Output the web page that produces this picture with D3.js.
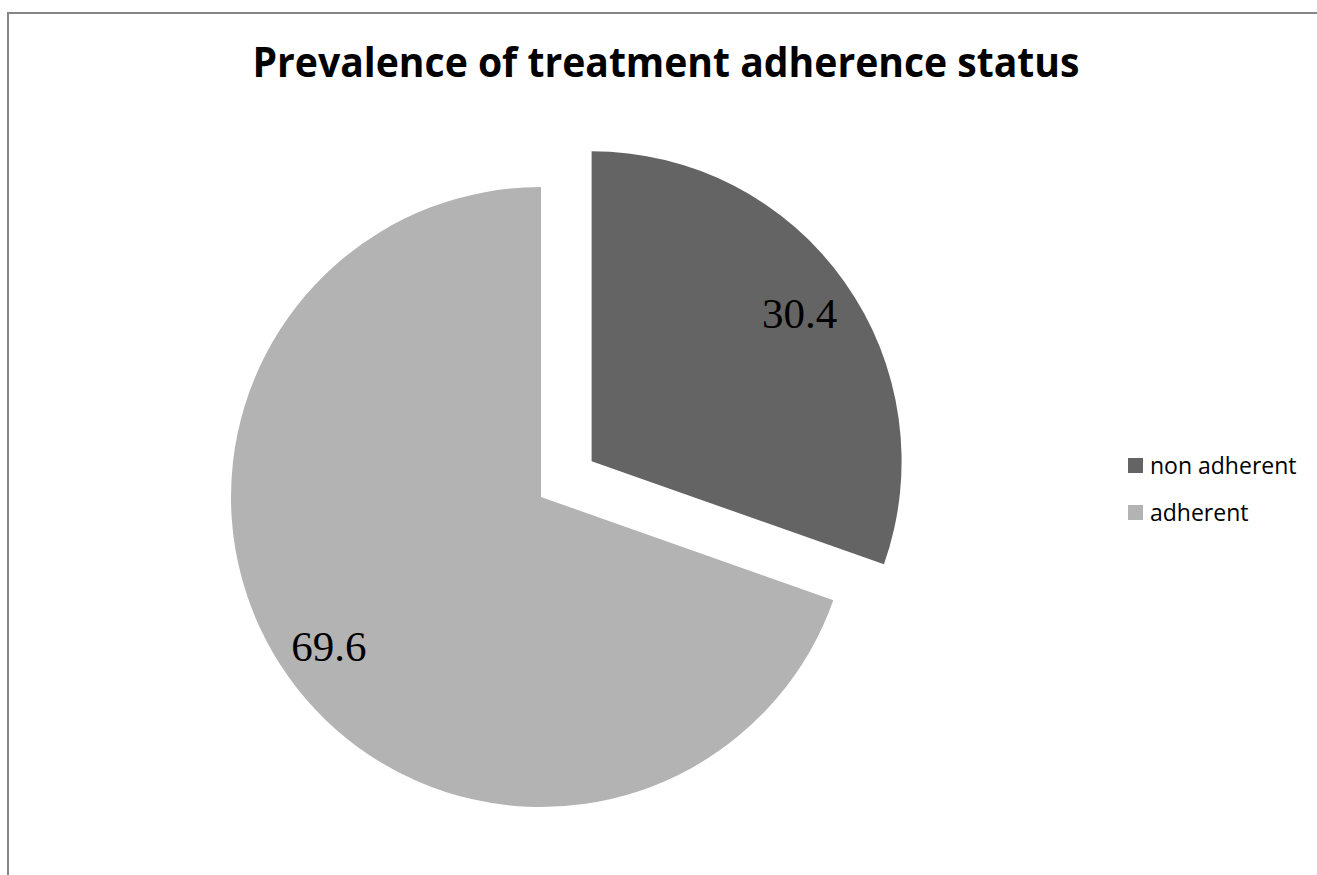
<!DOCTYPE html>
<html>
<head>
<meta charset="utf-8">
<script src="https://cdn.jsdelivr.net/npm/d3@7"></script>
<style>
  html, body { margin: 0; padding: 0; background: #fff; }
  svg { display: block; }
</style>
</head>
<body>
<svg id="chart" width="1317" height="875"></svg>
<script>
// data
var categories = ['non adherent', 'adherent']
var values = [30.4, 69.6]
var colors = ['#646464', '#b3b3b3']
var title = 'Prevalence of treatment adherence status'

var width = 1317, height = 875
var cx = 541, cy = 497, radius = 310
var explode = 62 // first slice pulled out

var svg = d3.select('#chart')

// frame lines (only top and left are visible)
svg.append('line')
    .attr('x1', 7).attr('y1', 13).attr('x2', width).attr('y2', 13)
    .attr('stroke', '#868686').attr('stroke-width', 2)
svg.append('line')
    .attr('x1', 8).attr('y1', 13).attr('x2', 8).attr('y2', height)
    .attr('stroke', '#868686').attr('stroke-width', 2)

// title
svg.append('text')
    .attr('x', 666).attr('y', 77)
    .attr('text-anchor', 'middle')
    .attr('font-family', 'Open Sans, sans-serif')
    .attr('font-weight', 'bold')
    .attr('font-size', 42)
    .attr('textLength', 827)
    .attr('lengthAdjust', 'spacingAndGlyphs')
    .text(title)

var pie = d3.pie().sort(null).value(function (d) { return d })
var arcs = pie(values)
var arc = d3.arc().innerRadius(0).outerRadius(radius)
var labelArc = d3.arc().innerRadius(radius * 0.83).outerRadius(radius * 0.83)

function offset(d, i) {
    if (i !== 0) return [0, 0]
    var a = (d.startAngle + d.endAngle) / 2
    return [Math.sin(a) * explode, -Math.cos(a) * explode]
}

var slices = svg.append('g').attr('transform', 'translate(' + cx + ',' + cy + ')')
    .selectAll('g')
    .data(arcs)
    .enter().append('g')
    .attr('transform', function (d, i) {
        var o = offset(d, i)
        return 'translate(' + o[0] + ',' + o[1] + ')'
    })

slices.append('path')
    .attr('d', arc)
    .attr('fill', function (d, i) { return colors[i] })

slices.append('text')
    .attr('transform', function (d) {
        var c = labelArc.centroid(d)
        return 'translate(' + (c[0] - 2) + ',' + c[1] + ')'
    })
    .attr('dy', '0.35em')
    .attr('text-anchor', 'middle')
    .attr('font-family', 'Liberation Serif, Times New Roman, serif')
    .attr('font-size', 43)
    .attr('fill', '#000')
    .text(function (d) { return d3.format('.1f')(d.value) })

// legend
var legend = svg.append('g')
    .selectAll('g')
    .data(categories)
    .enter().append('g')
    .attr('transform', function (d, i) { return 'translate(1128,' + (458 + i * 47) + ')' })

legend.append('rect')
    .attr('width', 15).attr('height', 15)
    .attr('fill', function (d, i) { return colors[i] })

legend.append('text')
    .attr('x', 22).attr('y', 7.5)
    .attr('dy', '0.35em')
    .attr('font-family', 'Open Sans, sans-serif')
    .attr('font-size', 23)
    .attr('fill', '#000')
    .text(function (d) { return d })
</script>
</body>
</html>
